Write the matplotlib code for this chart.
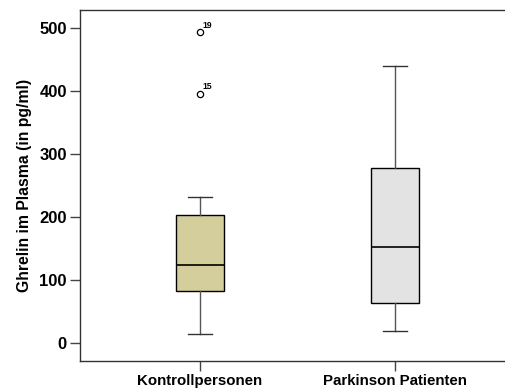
import matplotlib
matplotlib.use("Agg")
import matplotlib.pyplot as plt

plt.rcParams['font.family'] = ['Liberation Sans', 'DejaVu Sans']

# Werte
categories = ['Kontrollpersonen', 'Parkinson Patienten']
whislo = [14, 19]
q1 = [82, 64]
med = [124, 153]
q3 = [203, 278]
whishi = [231, 440]
fliers = [[493, 396], []]
flier_ids = [['19', '15'], []]
box_colors = ['#D3CE9B', '#E3E3E3']
yticks = [0, 100, 200, 300, 400, 500]

stats = []
for i, name in enumerate(categories):
    stats.append(dict(label=name, whislo=whislo[i], q1=q1[i], med=med[i],
                      q3=q3[i], whishi=whishi[i], fliers=fliers[i]))

fig = plt.figure(figsize=(5.05, 3.92), dpi=100)
ax = fig.add_axes([80/505, 1-361/392, 425/505, 351/392])

positions = [1, 2]
bp = ax.bxp(stats, positions=positions, widths=0.25, patch_artist=True,
            showfliers=True,
            boxprops=dict(edgecolor='black', linewidth=1.0),
            medianprops=dict(color='black', linewidth=1.2),
            whiskerprops=dict(color='#555555', linewidth=1.0),
            capprops=dict(color='#333333', linewidth=1.0),
            capwidths=0.125,
            flierprops=dict(marker='o', markerfacecolor='white',
                            markeredgecolor='black', markersize=4.5,
                            markeredgewidth=0.9))
for patch, c in zip(bp['boxes'], box_colors):
    patch.set_facecolor(c)

# Fallnummern neben den Ausreißern
for i, pos in enumerate(positions):
    for val, lab in zip(fliers[i], flier_ids[i]):
        ax.annotate(lab, (pos, val), xytext=(2, 1.5), textcoords='offset points',
                    fontsize=6.2, fontweight='bold', ha='left', va='bottom')

ax.set_xlim(1 - 120/195, 2 + 110/195)
ax.set_ylim(-28.6, 528.6)
ax.set_yticks(yticks)
ax.set_yticklabels([str(v) for v in yticks])
ax.set_xticks(positions)
ax.set_xticklabels(categories)

for lab in ax.get_yticklabels():
    lab.set_fontsize(12)
    lab.set_fontweight('bold')
for lab in ax.get_xticklabels():
    lab.set_fontsize(10.8)
    lab.set_fontweight('bold')

ax.tick_params(axis='both', direction='out', length=7.5, width=1.0,
               color='#444444', pad=2)
ax.set_ylabel('Ghrelin im Plasma (in pg/ml)', fontsize=11.3, fontweight='bold',
              labelpad=5)

ax.spines['right'].set_visible(False)
for s in ['left', 'top', 'bottom']:
    ax.spines[s].set_color('#333333')
    ax.spines[s].set_linewidth(1.0)

fig.savefig('out.png', dpi=100)
